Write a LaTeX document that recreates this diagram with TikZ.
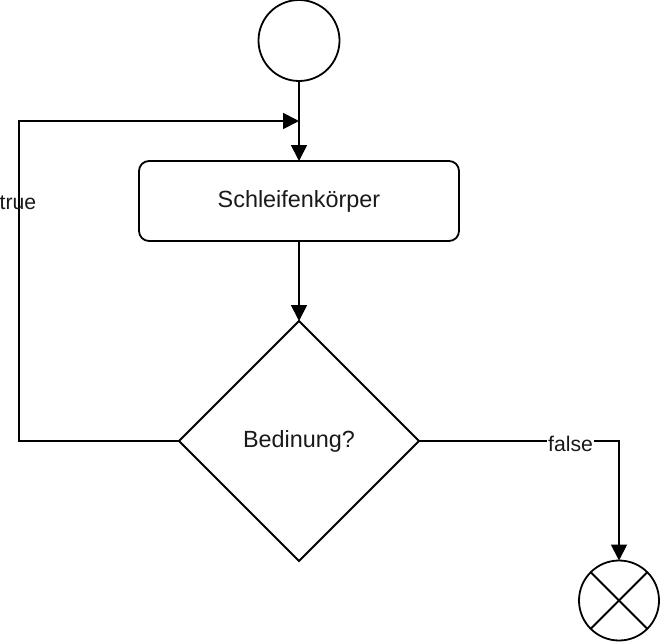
\documentclass[tikz,border=0pt]{standalone}
\usepackage{fontspec}
\setmainfont{Liberation Sans}
\usetikzlibrary{shapes.geometric,arrows.meta}
\begin{document}
\begin{tikzpicture}[x=1pt,y=-1pt,
  line width=1.8pt,
  maintext/.style={font=\fontsize{23.4}{28}\selectfont, text=black!90},
  labeltext/.style={font=\fontsize{21.2}{25}\selectfont, text=black!90},
  startnode/.style={draw, circle, minimum size=81pt, inner sep=0pt, outer sep=0pt},
  endnode/.style={draw, circle, minimum size=80pt, inner sep=0pt, outer sep=0pt},
  actbox/.style={draw, rounded corners=10pt, minimum width=320pt, minimum height=80pt, inner sep=0pt, outer sep=0pt, maintext},
  decision/.style={draw, diamond, minimum width=240pt, minimum height=240pt, aspect=1, inner sep=0pt, outer sep=0pt, maintext},
  flow/.style={-{Triangle[length=16pt,width=16pt]}},
  flowlabel/.style={labeltext, inner sep=1pt},
]
\useasboundingbox (0,0) rectangle (660,642);
\node[startnode] (start) at (299,40.5) {};
\node[actbox] (body) at (299,201) {Schleifenkörper};
\node[decision] (cond) at (299,441) {Bedinung?};
\node[endnode] (end) at (619,600.5) {};
\draw (end.north west) -- (end.south east);
\draw (end.north east) -- (end.south west);
\coordinate (loopin) at (299,121);
\coordinate (bl) at (19,441);
\coordinate (tl) at (19,121);
\draw[flow] (start) -- (body);
\draw[flow] (body) -- (cond);
\draw[flow] (cond.west) -- (bl) -- node[flowlabel, pos=0.744, xshift=-1pt] {true} (tl) -- (loopin);
\draw[flow] (cond.east) -| node[flowlabel, fill=white, pos=0.379, yshift=-3pt] {false} (end.north);
\end{tikzpicture}
\end{document}
